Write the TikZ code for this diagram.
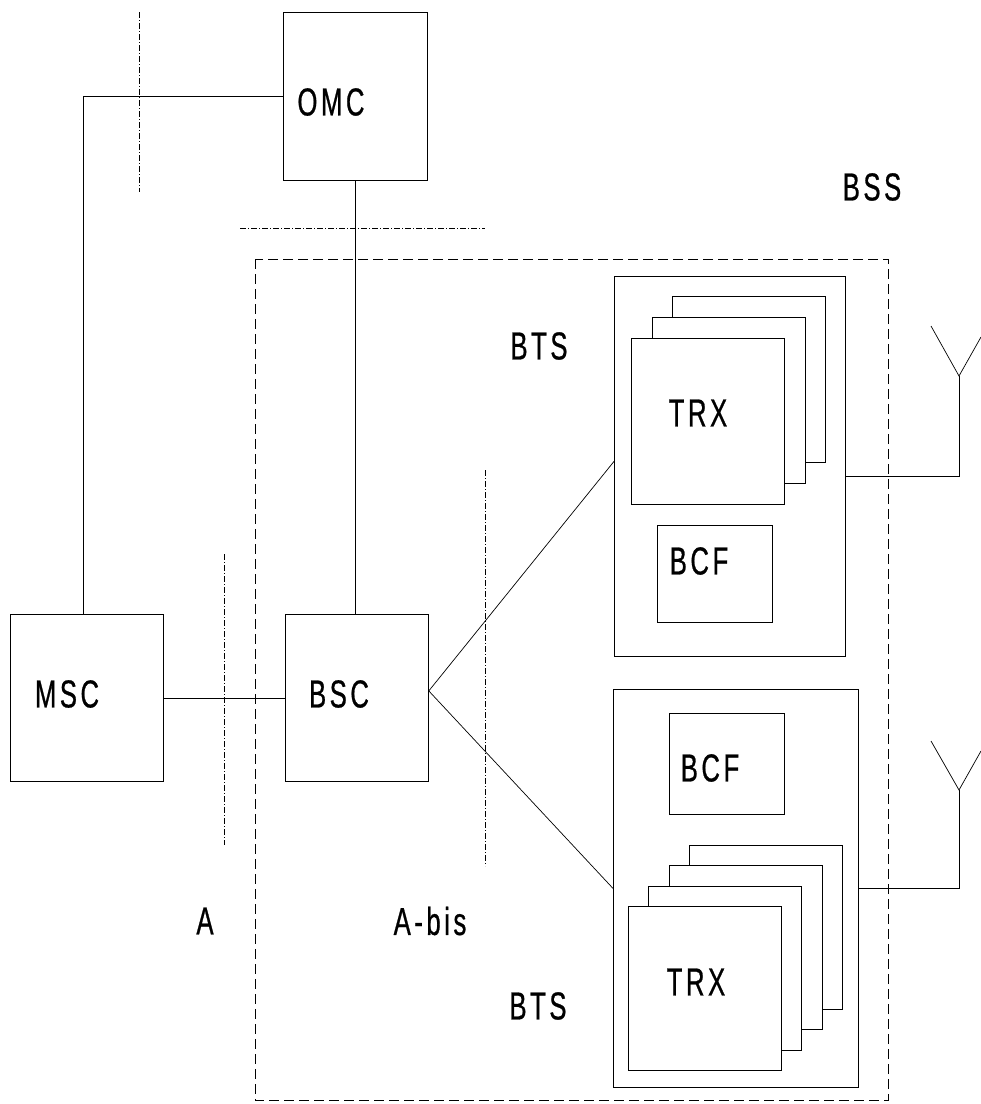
\documentclass[tikz,border=0pt]{standalone}
\usepackage{fontspec}
\setmainfont[FakeStretch=0.66,LetterSpace=9,FakeBold=0.6]{Liberation Sans}
\tikzset{
    unit/.style={draw, line width=.8pt, inner sep=0pt, anchor=north west, fill=white},
    lbl/.style={font=\fontsize{39}{42}\selectfont, inner sep=0pt},
    iface/.style={line width=.7pt, dash pattern=on 6pt off 2pt on 1pt off 2pt},
    wire/.style={line width=.7pt},
}
\begin{document}
\begin{tikzpicture}[x=1pt,y=-1pt]

    \useasboundingbox (0,0) rectangle (981,1104);

    % subsystem boundary
    \draw[line width=.7pt, dash pattern=on 10pt off 5pt] (255,259) rectangle (888,1100);
    \node [lbl] (bss) at (872,187) {BSS};

    % interfaces
    \draw[iface] (139,12) -- (139,192);
    \draw[iface] (240,228) -- (485,228);
    \draw[iface] (224,554) -- (224,845);
    \draw[iface] (485,470) -- (485,866);
    \node [lbl] (ifA) at (205,921) {A};
    \node [lbl] (ifAbis) at (430,921) {A-bis};

    % switching side
    \node [unit, minimum width=144pt, minimum height=168pt] (omc) at (283,12) {};
    \node [unit, minimum width=153pt, minimum height=167pt] (msc) at (10,614) {};
    \node [unit, minimum width=143pt, minimum height=167pt] (bsc) at (285,614) {};
    \node [lbl] (omcText) at (331,102) {OMC};
    \node [lbl] (mscText) at (67,694) {MSC};
    \node [lbl] (bscText) at (339,694) {BSC};

    % base stations
    \node [unit, minimum width=231pt, minimum height=380pt] (btsOne) at (614,276) {};
    \node [unit, minimum width=245pt, minimum height=398pt] (btsTwo) at (613,689) {};
    \node [lbl] (btsOneText) at (539,346) {BTS};
    \node [lbl] (btsTwoText) at (538,1006) {BTS};

    \foreach \k in {2,1,0}
        \node [unit, minimum width=153pt, minimum height=166pt] (trxOne\k) at (631+20.5*\k,338-21*\k) {};
    \foreach \k in {3,2,1,0}
        \node [unit, minimum width=153pt, minimum height=164pt] (trxTwo\k) at (628+20.3*\k,906-20.3*\k) {};
    \node [lbl] (trxOneText) at (698,413) {TRX};
    \node [lbl] (trxTwoText) at (696,982) {TRX};

    \node [unit, minimum width=115pt, minimum height=97pt] (bcfOne) at (657,525) {};
    \node [unit, minimum width=115pt, minimum height=101pt] (bcfTwo) at (669,713) {};
    \node [lbl] (bcfOneText) at (699,561) {BCF};
    \node [lbl] (bcfTwoText) at (710,768) {BCF};

    % links
    \draw[wire] ([xshift=-4pt]msc.north) |- (omc.west);
    \draw[wire] (omc.south) -- (omc.south |- bsc.north);
    \draw[wire] (msc.east) -- (bsc.west);
    \coordinate (fork) at ([yshift=7pt]bsc.east);
    \draw[wire] ([yshift=5pt]btsOne.west) -- (fork) -- (btsTwo.west);

    % antennas
    \coordinate (antOne) at (959,476);
    \coordinate (antTwo) at (959,888);
    \draw[wire] (btsOne.east |- antOne) -- (antOne) -- ++(0,-100) coordinate (tipOne);
    \draw[wire] (931,326) -- (tipOne) -- (981,337);
    \draw[wire] (btsTwo.east |- antTwo) -- (antTwo) -- ++(0,-98) coordinate (tipTwo);
    \draw[wire] (931,741) -- (tipTwo) -- (981,751);

\end{tikzpicture}
\end{document}
